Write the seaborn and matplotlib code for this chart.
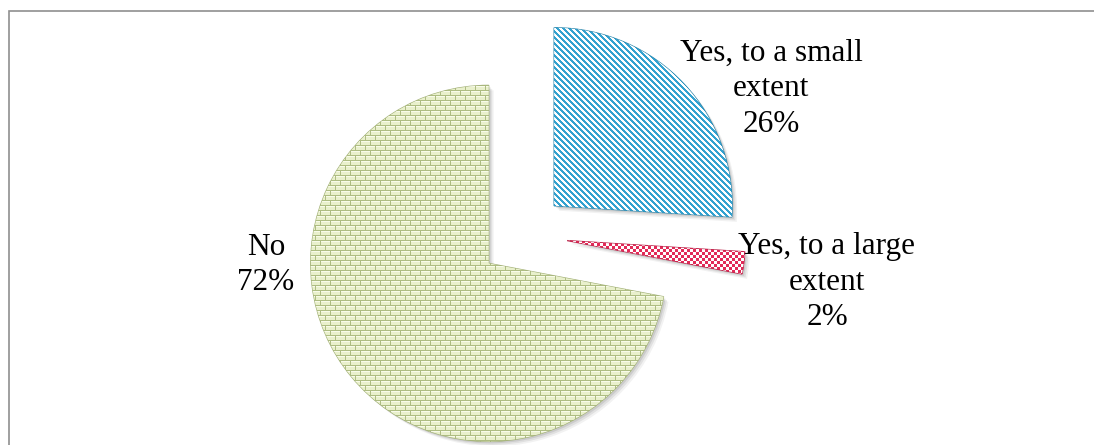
import numpy as np
import matplotlib
matplotlib.use("Agg")
import matplotlib.pyplot as plt
from matplotlib.patches import Rectangle
import seaborn as sns

# Survey answers and their shares (%)
answers = ["Yes, to a small\nextent", "Yes, to a large\nextent", "No"]
shares = [26, 2, 72]
explode_frac = [0.24, 0.25, 0.25]   # slice pull-out, as a fraction of the radius

sns.set_theme(style="white")
plt.rcParams["font.family"] = ["Liberation Serif", "DejaVu Serif"]

W, H = 1094, 445
fig = plt.figure(figsize=(W / 100, H / 100), dpi=100)
ax = fig.add_axes([0, 0, 1, 1])

center = (523, 210)
radius = 178
# matplotlib's explode is an absolute offset, so scale it by the radius
pie_kw = dict(explode=[e * radius for e in explode_frac], startangle=90,
              counterclock=False, radius=radius)

# soft drop shadow under the slices
for (dx, dy), a in [((5, -5), 0.05), ((3.5, -3.5), 0.07), ((2, -2), 0.09)]:
    ax.pie(shares, center=(center[0] + dx, center[1] + dy),
           wedgeprops=dict(facecolor="black", alpha=a, linewidth=0), **pie_kw)

wedges, _ = ax.pie(shares, center=center,
                   colors=["#3aa6d0", "#e4305c", "#eef3d8"],
                   wedgeprops=dict(linewidth=0.9), **pie_kw)

# fill textures: stripes, checkerboard, bricks
rows, cols = np.mgrid[0:H, 0:W]


def paint(mask, fg, bg):
    fg = np.array(matplotlib.colors.to_rgb(fg))
    bg = np.array(matplotlib.colors.to_rgb(bg))
    return np.where(mask[..., None], fg, bg)


stripes = paint(((cols - rows) % 6) < 3, "#33a2d0", "#ffffff")
checks = paint(((rows // 3 + cols // 3) % 2) == 0, "#e22a58", "#ffffff")

brick_h, brick_w = 5, 10
row_in = rows % brick_h
shift = ((rows // brick_h) % 2) * (brick_w // 2)
mortar = (row_in == 0) | (((cols + shift) % brick_w) == 0)
bricks = paint(mortar, "#aebd82", "#e9f0cc")
highlight = (row_in == 1) & ~mortar
bricks[highlight] = matplotlib.colors.to_rgb("#f8fbe9")

edge_cols = ["#2c86ab", "#b81f45", "#a3b178"]
for wedge, tex, ec in zip(wedges, [stripes, checks, bricks], edge_cols):
    wedge.set_edgecolor(ec)
    im = ax.imshow(tex, extent=(0, W, 0, H), origin="upper",
                   interpolation="nearest", zorder=wedge.get_zorder() + 0.1)
    im.set_clip_path(wedge)

# slice labels
label_pos = [(771, 356), (827, 163), (266, 180)]
for (x, y), name, share in zip(label_pos, answers, shares):
    ax.text(x, y, f"{name}\n{share}%", ha="center", va="center",
            fontsize=22.5, linespacing=1.3, color="black", zorder=10)

# chart frame
ax.add_patch(Rectangle((8.5, -10), W + 10, H - 10.5 + 10, fill=False,
                       edgecolor="#8f8f8f", linewidth=1.2, zorder=20))

ax.set_xlim(0, W)
ax.set_ylim(0, H)
ax.set_aspect("auto")
ax.axis("off")

fig.savefig("out.png", dpi=100, facecolor="white")
